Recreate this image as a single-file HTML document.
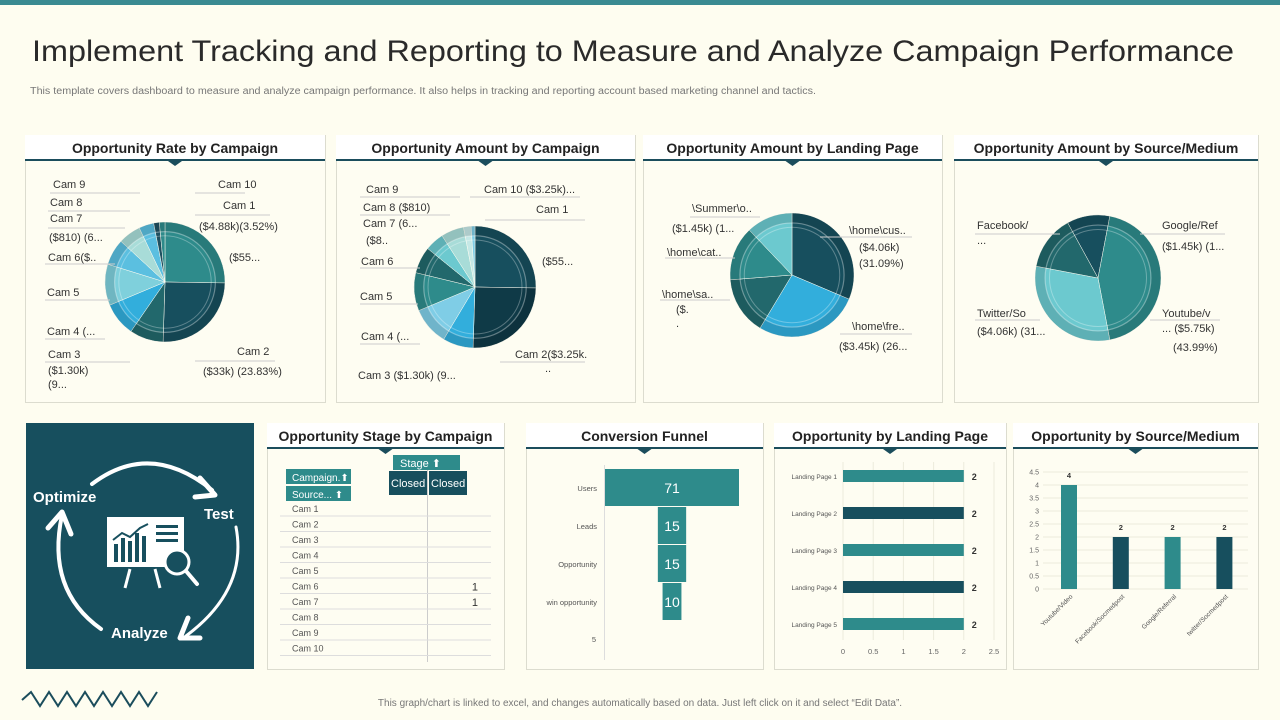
<!DOCTYPE html>
<html><head><meta charset="utf-8">
<style>
html,body{margin:0;padding:0;background:#fefdf0;}
svg{display:block;font-family:"Liberation Sans",sans-serif;}
</style></head>
<body>
<svg id="page" width="1280" height="720" viewBox="0 0 1280 720" xmlns="http://www.w3.org/2000/svg">
<rect x="0" y="0" width="1280" height="720" fill="#fefdf0"/>
<rect x="0" y="0" width="1280" height="5" fill="#3a8a91"/>
<text x="32" y="61" font-size="30" fill="#2a2a2a" textLength="1202" lengthAdjust="spacingAndGlyphs">Implement Tracking and Reporting to Measure and Analyze Campaign Performance</text>
<text x="30" y="94" font-size="10" fill="#777" textLength="786" lengthAdjust="spacingAndGlyphs">This template covers dashboard to measure and analyze campaign performance. It also helps in tracking and reporting account based marketing channel and tactics.</text>

<g id="panels"></g>
<g id="charts"></g>

<g>
<rect x="26" y="423" width="228" height="246" fill="#174f5e"/>
<path d="M92 484 Q150 440 212 490" fill="none" stroke="#fff" stroke-width="4" stroke-linecap="round"/>
<path d="M200 478 L215 495 L195 497" fill="none" stroke="#fff" stroke-width="5" stroke-linecap="round" stroke-linejoin="round"/>
<path d="M236 527 Q248 590 186 636" fill="none" stroke="#fff" stroke-width="3" stroke-linecap="round"/>
<path d="M188 618 L180 638 L200 638" fill="none" stroke="#fff" stroke-width="5" stroke-linecap="round" stroke-linejoin="round"/>
<path d="M101 629 Q46 590 62 515" fill="none" stroke="#fff" stroke-width="4" stroke-linecap="round"/>
<path d="M48 528 L62 512 L71 534" fill="none" stroke="#fff" stroke-width="5" stroke-linecap="round" stroke-linejoin="round"/>
<text x="33" y="502" font-size="15" font-weight="bold" fill="#fff">Optimize</text>
<text x="204" y="519" font-size="15" font-weight="bold" fill="#fff">Test</text>
<text x="111" y="638" font-size="15" font-weight="bold" fill="#fff">Analyze</text>
<rect x="107" y="517" width="77" height="50" fill="#fff"/>
<rect x="114" y="544" width="4" height="18" fill="#174f5e"/><rect x="121" y="538" width="4" height="24" fill="#174f5e"/><rect x="128" y="541" width="4" height="21" fill="#174f5e"/><rect x="135" y="533" width="4" height="29" fill="#174f5e"/><rect x="142" y="536" width="4" height="26" fill="#174f5e"/>
<polyline points="113,540 122,533 130,537 140,528 148,524" fill="none" stroke="#174f5e" stroke-width="2"/>
<rect x="156" y="525" width="22" height="3" fill="#174f5e"/><rect x="156" y="532" width="22" height="3" fill="#174f5e"/><rect x="156" y="539" width="22" height="3" fill="#174f5e"/>
<line x1="130" y1="569" x2="125" y2="588" stroke="#fff" stroke-width="3"/><line x1="155" y1="569" x2="160" y2="588" stroke="#fff" stroke-width="3"/>
<circle cx="177" cy="562" r="12" fill="#174f5e" stroke="#fff" stroke-width="3"/>
<line x1="186" y1="571" x2="197" y2="584" stroke="#fff" stroke-width="4" stroke-linecap="round"/>
</g>

<g font-size="9" fill="#555">
<rect x="286" y="469" width="65" height="15" fill="#2e8b8b"/>
<text x="292" y="481" fill="#fff" font-size="10">Campaign.⬆</text>
<rect x="286" y="486" width="65" height="15" fill="#2e8b8b"/>
<text x="292" y="498" fill="#fff" font-size="10">Source...  ⬆</text>
<rect x="393" y="455" width="67" height="15" fill="#2e8b8b"/>
<text x="400" y="467" fill="#fff" font-size="11">Stage         ⬆</text>
<rect x="389" y="471" width="38" height="24" fill="#174f5e"/>
<rect x="429" y="471" width="38" height="24" fill="#174f5e"/>
<text x="391" y="487" fill="#fff" font-size="11">Closed</text>
<text x="431" y="487" fill="#fff" font-size="11">Closed</text>
<line x1="427.5" y1="470" x2="427.5" y2="662" stroke="#ccc"/>
<g id="stageRows"></g>
</g>

<g font-size="11" fill="#333">
<text x="53" y="188">Cam 9</text><text x="218" y="188">Cam 10</text>
<text x="50" y="206">Cam 8</text><text x="223" y="209">Cam 1</text>
<text x="50" y="222">Cam 7</text><text x="199" y="230">($4.88k)(3.52%)</text>
<text x="49" y="241">($810) (6...</text><text x="229" y="261">($55...</text>
<text x="48" y="261">Cam 6($..</text>
<text x="47" y="296">Cam 5</text>
<text x="47" y="335">Cam 4 (...</text>
<text x="48" y="358">Cam 3</text><text x="237" y="355">Cam 2</text>
<text x="48" y="374">($1.30k)</text><text x="203" y="375">($33k) (23.83%)</text>
<text x="48" y="388">(9...</text>

<text x="366" y="193">Cam 9</text><text x="484" y="193">Cam 10  ($3.25k)...</text>
<text x="363" y="211">Cam 8 ($810)</text><text x="536" y="213">Cam 1</text>
<text x="363" y="227">Cam 7 (6...</text>
<text x="366" y="244">($8..</text><text x="542" y="265">($55...</text>
<text x="361" y="265">Cam 6</text>
<text x="360" y="300">Cam 5</text>
<text x="361" y="340">Cam 4 (...</text>
<text x="515" y="358">Cam 2($3.25k.</text><text x="545" y="372">..</text>
<text x="358" y="379">Cam 3 ($1.30k) (9...</text>

<text x="692" y="212">\Summer\o..</text>
<text x="672" y="232">($1.45k) (1...</text><text x="849" y="234">\home\cus..</text>
<text x="667" y="256">\home\cat..</text><text x="859" y="251">($4.06k)</text>
<text x="859" y="267">(31.09%)</text>
<text x="662" y="298">\home\sa..</text>
<text x="676" y="313">($.</text><text x="676" y="327">.</text>
<text x="852" y="330">\home\fre..</text>
<text x="839" y="350">($3.45k) (26...</text>

<text x="977" y="229">Facebook/</text><text x="977" y="244">...</text>
<text x="1162" y="229">Google/Ref</text>
<text x="1162" y="250">($1.45k) (1...</text>
<text x="977" y="317">Twitter/So</text><text x="1162" y="317">Youtube/v</text>
<text x="977" y="335">($4.06k) (31...</text><text x="1162" y="332">... ($5.75k)</text>
<text x="1173" y="351">(43.99%)</text>
</g>
<g stroke="#ccc" stroke-width="1">
<line x1="50" y1="193" x2="140" y2="193"/><line x1="195" y1="193" x2="245" y2="193"/>
<line x1="48" y1="211" x2="130" y2="211"/><line x1="48" y1="228" x2="125" y2="228"/>
<line x1="45" y1="264" x2="115" y2="264"/><line x1="45" y1="300" x2="110" y2="300"/>
<line x1="45" y1="339" x2="105" y2="339"/><line x1="45" y1="362" x2="130" y2="362"/>
<line x1="195" y1="361" x2="275" y2="361"/><line x1="195" y1="215" x2="270" y2="215"/>
<line x1="360" y1="197" x2="460" y2="197"/><line x1="470" y1="197" x2="580" y2="197"/>
<line x1="360" y1="215" x2="450" y2="215"/><line x1="485" y1="220" x2="585" y2="220"/>
<line x1="360" y1="268" x2="420" y2="268"/><line x1="360" y1="304" x2="418" y2="304"/>
<line x1="360" y1="344" x2="420" y2="344"/><line x1="500" y1="362" x2="585" y2="362"/>
<line x1="690" y1="217" x2="760" y2="217"/><line x1="665" y1="258" x2="735" y2="258"/>
<line x1="820" y1="237" x2="912" y2="237"/><line x1="660" y1="300" x2="730" y2="300"/>
<line x1="840" y1="334" x2="912" y2="334"/><line x1="975" y1="234" x2="1060" y2="234"/>
<line x1="1140" y1="234" x2="1225" y2="234"/><line x1="975" y1="320" x2="1040" y2="320"/>
<line x1="1150" y1="320" x2="1220" y2="320"/>
</g>

<polyline points="22,700 31,692 40,706 49,692 58,706 67,692 76,706 85,692 94,706 103,692 112,706 121,692 130,706 139,692 148,706 157,692" fill="none" stroke="#1b4d5c" stroke-width="2"/>
<text x="640" y="706" font-size="10" fill="#777" text-anchor="middle">This graph/chart is linked to excel, and changes automatically based on data. Just left click on it and select “Edit Data”.</text>
</svg>
<script>
const pie1Labels = ["Cam 1","Cam 2","Cam 3","Cam 4","Cam 5","Cam 6","Cam 7","Cam 8","Cam 9","Cam 10"];
const pie1Values = [25,25,9,9,11,7,6,4,1.5,1.5];
const pie2Labels = ["Cam 1","Cam 2","Cam 3","Cam 4","Cam 5","Cam 6","Cam 7","Cam 8","Cam 9","Cam 10"];
const pie2Values = [25,25,8,10,10,7,5,6,2,1];
const pie3Labels = ["\\home\\cus","\\home\\fre","\\home\\sa","\\home\\cat","\\Summer\\o"];
const pie3Values = [31.09,27,15,14,12];
const pie4Labels = ["Google/Ref","Youtube/v","Twitter/So","Facebook/"];
const pie4Values = [11,43.99,31,14];
const funnelStages = ["Users","Leads","Opportunity","win opportunity"];
const funnelValues = [71,15,15,10];
const landingPages = ["Landing Page  1","Landing Page  2","Landing Page  3","Landing Page  4","Landing Page  5"];
const landingValues = [2,2,2,2,2];
const landingTicks = [0,0.5,1,1.5,2,2.5];
const sourceCats = ["Youtube/Video","Facebook/Socmedpost","Google/Referral","twitter/Socmedpost"];
const sourceValues = [4,2,2,2];
const sourceTicks = [0,0.5,1,1.5,2,2.5,3,3.5,4,4.5];
const stageCampaigns = ["Cam 1","Cam 2","Cam 3","Cam 4","Cam 5","Cam 6","Cam 7","Cam 8","Cam 9","Cam 10"];
const stageClosed = [null,null,null,null,null,1,1,null,null,null];

const NS="http://www.w3.org/2000/svg";
function mk(tag,attrs,parent){const e=document.createElementNS(NS,tag);for(const k in attrs)e.setAttribute(k,attrs[k]);(parent||document.getElementById('charts')).appendChild(e);return e;}

const panelsG=document.getElementById('panels');
const panels=[
 [25,135,300,267,"Opportunity Rate by Campaign"],[336,135,299,267,"Opportunity Amount  by Campaign"],
 [643,135,299,267,"Opportunity Amount  by Landing Page"],[954,135,304,267,"Opportunity Amount  by Source/Medium"],
 [267,423,237,246,"Opportunity Stage by Campaign"],[526,423,237,246,"Conversion Funnel"],
 [774,423,232,246,"Opportunity by Landing Page"],[1013,423,245,246,"Opportunity by Source/Medium"]];
panels.forEach(p=>{
 const [x,y,w,h,t]=p;
 const g=mk('g',{},panelsG);
 
 
 mk('rect',{x:x+.5,y:y+.5,width:w,height:h,fill:'#fefdf2',stroke:'#dcdccf'},g);
 mk('rect',{x:x,y:y,width:w,height:24,fill:'#ffffff'},g);
 mk('rect',{x:x,y:y+24,width:w,height:2,fill:'#1b4d5c'},g);
 mk('path',{d:`M${x+w/2-7} ${y+26} L${x+w/2+7} ${y+26} L${x+w/2} ${y+31} Z`,fill:'#1b4d5c'},g);
 const tt=mk('text',{x:x+w/2,y:y+18,'font-size':14,'font-weight':'bold',fill:'#222','text-anchor':'middle'},g);
 tt.textContent=t;
 
 
});

function pie(cx,cy,r,values,labels,colors,start){
 const tot=values.reduce((a,b)=>a+b,0);
 let a=start*2*Math.PI-Math.PI/2;
 values.forEach((v,i)=>{
  const a2=a+v/tot*2*Math.PI;
  const large=(a2-a)>Math.PI?1:0;
  const d=`M${cx} ${cy} L${cx+r*Math.cos(a)} ${cy+r*Math.sin(a)} A${r} ${r} 0 ${large} 1 ${cx+r*Math.cos(a2)} ${cy+r*Math.sin(a2)} Z`;
  const p=mk('path',{d:d,fill:colors[i],stroke:'#fefdf2','stroke-width':0.5});
  
  
  a=a2;
 });
 mk('circle',{cx:cx,cy:cy,r:r*0.92,fill:'none',stroke:'#000','stroke-opacity':0.12,'stroke-width':r*0.16});
 mk('circle',{cx:cx,cy:cy,r:r*0.84,fill:'none',stroke:'#fff','stroke-opacity':0.35,'stroke-width':1.2});
 mk('circle',{cx:cx,cy:cy,r:r*0.77,fill:'none',stroke:'#fff','stroke-opacity':0.3,'stroke-width':1});
}
pie(165,282,60,pie1Values,pie1Labels,["#2e8b8b","#174f5e","#22686c","#32aedc","#7fd0dc","#5bbfe0","#a8dcd8","#5bbfe0","#1f5060","#2e8b8b"],0);
pie(475,287,61,pie2Values,pie2Labels,["#174f5e","#0f3a47","#32aedc","#7fcde6","#2e8b8b","#22686c","#6cc9cf","#a8dcd8","#c5e8e6","#7fcde6"],0);
pie(792,275,62,pie3Values,pie3Labels,["#174f5e","#32aedc","#22686c","#2e8b8b","#6cc9cf"],0);
pie(1098,278,63,pie4Values,pie4Labels,["#174f5e","#2e8b8b","#6cc9cf","#22686c"],-0.08);

const sr=document.getElementById('stageRows');
stageCampaigns.forEach((c,i)=>{
 const y=508+i*15.5;
 const t=mk('text',{x:292,y:y+4,'font-size':9,fill:'#555'},sr);t.textContent=c;
 
 
 mk('line',{x1:280,y1:y+8,x2:491,y2:y+8,stroke:'#ddd'},sr);
 if(stageClosed[i]!=null){const v=mk('text',{x:478,y:y+5,'font-size':11,fill:'#333','text-anchor':'end'},sr);v.textContent=stageClosed[i];
 
 }
});

const fCx=672, fScale=134/71, fTop=469, fRow=38;
mk('line',{x1:604.5,y1:465,x2:604.5,y2:660,stroke:'#ddd'});
funnelStages.forEach((s,i)=>{
 const w=funnelValues[i]*fScale, y=fTop+i*fRow;
 const r=mk('rect',{x:fCx-w/2,y:y,width:w,height:fRow-1,fill:'#2e8b8b'});
 
 
 const t=mk('text',{x:fCx,y:y+24,'font-size':14,fill:'#fff','text-anchor':'middle'});t.textContent=funnelValues[i];
 
 
 const l=mk('text',{x:597,y:y+22,'font-size':7.5,fill:'#555','text-anchor':'end'});l.textContent=s;
 
 
});
const f5=mk('text',{x:596,y:642,'font-size':7.5,fill:'#555','text-anchor':'end'});f5.textContent="5";



const lx0=843, lScale=60.4;
const lX=v=>lx0+v*lScale;
landingTicks.forEach(t=>{
 mk('line',{x1:lX(t),y1:462,x2:lX(t),y2:640,stroke:'#ecebdc'});
 const tx=mk('text',{x:lX(t),y:654,'font-size':7.5,fill:'#666','text-anchor':'middle'});tx.textContent=t;
 
 
});
landingPages.forEach((p,i)=>{
 const cy=476+i*37;
 const r=mk('rect',{x:lX(0),y:cy-6,width:lX(landingValues[i])-lX(0),height:12,fill:i%2?'#174f5e':'#2e8b8b'});
 
 
 const l=mk('text',{x:837,y:cy+3,'font-size':6.5,fill:'#555','text-anchor':'end'});l.textContent=p;
 
 
 const v=mk('text',{x:lX(landingValues[i])+8,y:cy+4,'font-size':9,'font-weight':'bold',fill:'#333'});v.textContent=landingValues[i];
 
 
});

const sy0=589, sScale=26;
const sY=v=>sy0-v*sScale;
sourceTicks.forEach(t=>{
 mk('line',{x1:1043,y1:sY(t),x2:1248,y2:sY(t),stroke:'#ecebdc'});
 const tx=mk('text',{x:1039,y:sY(t)+2.5,'font-size':7,fill:'#666','text-anchor':'end'});tx.textContent=t;
 
 
});
sourceCats.forEach((c,i)=>{
 const cx=1069+i*51.8;
 const r=mk('rect',{x:cx-8,y:sY(sourceValues[i]),width:16,height:sY(0)-sY(sourceValues[i]),fill:i%2?'#174f5e':'#2e8b8b'});
 
 
 const v=mk('text',{x:cx,y:sY(sourceValues[i])-7,'font-size':7.5,'font-weight':'bold',fill:'#333','text-anchor':'middle'});v.textContent=sourceValues[i];
 
 
 const l=mk('text',{x:cx+4,y:597,'font-size':6.5,fill:'#555','text-anchor':'end',transform:`rotate(-45 ${cx+4} 597)`});l.textContent=c;
 
 
});
</script>
</body></html>
